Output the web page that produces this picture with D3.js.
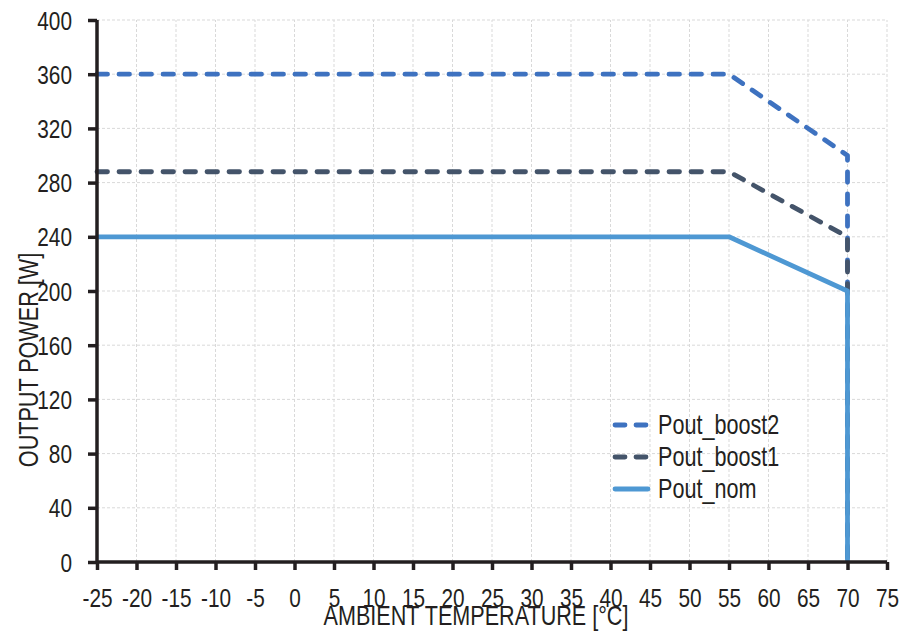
<!DOCTYPE html>
<html><head><meta charset="utf-8">
<script src="https://cdn.jsdelivr.net/npm/d3@7/dist/d3.min.js"></script>
<style>body{margin:0;background:#fff;} svg{display:block;} text{font-family:"Liberation Sans",Arial,sans-serif;fill:#231f20;}</style>
</head><body><svg id="c" width="903" height="633"></svg>
<script>
const seriesNames = ["Pout_boost2","Pout_boost1","Pout_nom"];
const temps = [-25, 55, 70, 70];
const boost2 = [360, 360, 300, 0];
const boost1 = [288, 288, 240, 0];
const nom = [240, 240, 200, 0];
const xTicks = d3.range(-25, 76, 5);
const yTicks = d3.range(0, 401, 40);
const colors = ["#3e72c0", "#44546a", "#4e98d3"];
const dashed = [true, true, false];

const SX = 0.8;
const svg = d3.select("#c");
const m = {l:97, r:16, t:20, b:71};
const W = 903, H = 633;
const x = d3.scaleLinear().domain([-25, 75]).range([m.l, W - m.r]);
const y = d3.scaleLinear().domain([0, 400]).range([H - m.b, m.t]);

// grid
const g = svg.append("g");
g.selectAll("line.vx").data(xTicks.slice(1)).join("line")
  .attr("x1", d=>x(d)).attr("x2", d=>x(d)).attr("y1", y(0)).attr("y2", y(400))
  .attr("stroke", "#d9d9d9").attr("stroke-width", 1).attr("stroke-dasharray", "3,2");
g.selectAll("line.hy").data(yTicks.slice(1)).join("line")
  .attr("y1", d=>y(d)).attr("y2", d=>y(d)).attr("x1", x(-25)).attr("x2", x(75))
  .attr("stroke", "#d9d9d9").attr("stroke-width", 1).attr("stroke-dasharray", "3,2");

// series
const data = [boost2, boost1, nom];
const line = d3.line().x((d,i)=>x(temps[i])).y(d=>y(d));
data.forEach((s, k) => {
  svg.append("path").datum(s).attr("d", line).attr("fill", "none")
    .attr("stroke", colors[k]).attr("stroke-width", 4.8)
    .attr("stroke-linecap", dashed[k] ? "round" : "butt")
    .attr("stroke-linejoin", "round")
    .attr("stroke-dasharray", dashed[k] ? "10.5,11.5" : null);
});

// axes
const fmt = d => String(d);
const xa = svg.append("g").attr("transform", `translate(0,${y(0)})`)
  .call(d3.axisBottom(x).tickValues(xTicks).tickSize(8).tickFormat(fmt));
const ya = svg.append("g").attr("transform", `translate(${x(-25)},0)`)
  .call(d3.axisLeft(y).tickValues(yTicks).tickSize(9).tickFormat(fmt));
[xa, ya].forEach(a => {
  a.select(".domain").attr("stroke", "#231f20").attr("stroke-width", 3.5);
  a.selectAll(".tick line").attr("stroke", "#231f20").attr("stroke-width", 3.5);
  a.selectAll(".tick text").style("font-family", '"Liberation Sans",Arial,sans-serif')
    .style("font-size", "26px").attr("fill", "#231f20").attr("transform", `scale(${SX},1)`);
});
xa.selectAll(".tick text").attr("y", 45).attr("dy", 0);
ya.selectAll(".tick text").attr("x", -25 / SX).attr("dy", "0.35em");
xa.select(".domain").attr("d", `M${x(-25)},0H${x(75)}`);
ya.select(".domain").attr("d", `M0,${y(0)}V${y(400)}`);

// titles
svg.append("text").attr("transform", `translate(476,625) scale(${SX},1)`).attr("text-anchor", "middle")
  .style("font-size", "27px").text("AMBIENT TEMPERATURE [°C]");
svg.append("text").attr("transform", `translate(38,360) rotate(-90) scale(${SX},1)`).attr("text-anchor", "middle")
  .style("font-size", "27px").text("OUTPUT POWER [W]");

// legend
const lg = svg.append("g");
seriesNames.forEach((n, k) => {
  const yy = 425 + k * 32;
  lg.append("line").attr("x1", 615).attr("x2", 648).attr("y1", yy).attr("y2", yy)
    .attr("stroke", colors[k]).attr("stroke-width", 4.8)
    .attr("stroke-linecap", "round")
    .attr("stroke-dasharray", dashed[k] ? "10,11" : null);
  lg.append("text").attr("transform", `translate(658,${yy + 9}) scale(${SX},1)`)
    .style("font-size", "27px").text(n);
});
</script></body></html>
